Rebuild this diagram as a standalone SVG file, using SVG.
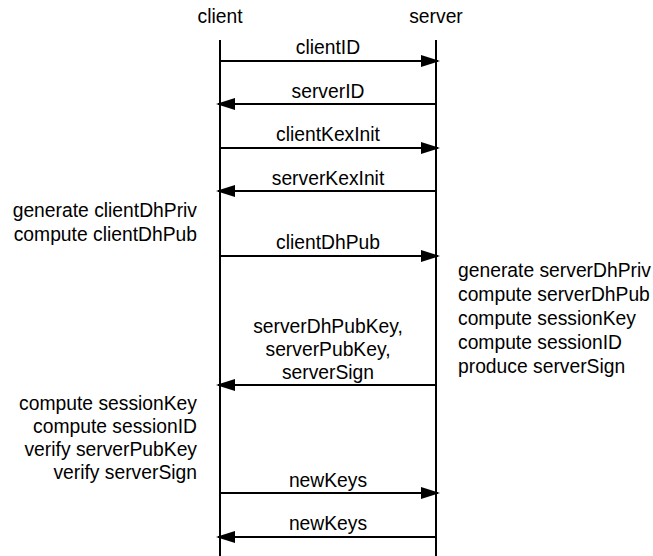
<svg xmlns="http://www.w3.org/2000/svg" width="653" height="556" viewBox="0 0 653 556">
  <style>
    text { font-family: "Liberation Sans", Arial, sans-serif; font-size: 19.3px; fill: #000; }
    .mid { text-anchor: middle; }
    .end { text-anchor: end; }
    .life { stroke: #000; stroke-width: 2; fill: none; }
    .msg { stroke: #000; stroke-width: 2; fill: none; marker-end: url(#head); }
  </style>
  <defs>
    <marker id="head" viewBox="0 0 19 12" refX="17" refY="6" markerWidth="19" markerHeight="12" markerUnits="userSpaceOnUse" orient="auto">
      <path d="M0,0 L19,6 L0,12 Z" fill="#000"/>
    </marker>
  </defs>

  <!-- lifelines -->
  <g id="client">
    <text class="mid" x="220" y="23">client</text>
    <line class="life" x1="220" y1="40" x2="220" y2="556"/>
  </g>
  <g id="server">
    <text class="mid" x="436" y="23">server</text>
    <line class="life" x1="436" y1="40" x2="436" y2="556"/>
  </g>

  <!-- messages -->
  <g id="connectors">
    <line class="msg" x1="220" y1="61" x2="438" y2="61"/>
    <text class="mid" x="328" y="54">clientID</text>

    <line class="msg" x1="436" y1="104" x2="218" y2="104"/>
    <text class="mid" x="328" y="98">serverID</text>

    <line class="msg" x1="220" y1="148" x2="438" y2="148"/>
    <text class="mid" x="328" y="141">clientKexInit</text>

    <line class="msg" x1="436" y1="191" x2="218" y2="191"/>
    <text class="mid" x="328" y="185">serverKexInit</text>

    <line class="msg" x1="220" y1="256" x2="438" y2="256"/>
    <text class="mid" x="328" y="249">clientDhPub</text>

    <line class="msg" x1="436" y1="385" x2="218" y2="385"/>
    <text class="mid" x="328" y="333">serverDhPubKey,</text>
    <text class="mid" x="328" y="356">serverPubKey,</text>
    <text class="mid" x="328" y="379">serverSign</text>

    <line class="msg" x1="220" y1="493" x2="438" y2="493"/>
    <text class="mid" x="328" y="487">newKeys</text>

    <line class="msg" x1="436" y1="537" x2="218" y2="537"/>
    <text class="mid" x="328" y="530">newKeys</text>
  </g>

  <!-- local computations -->
  <g id="client-dh">
    <text class="end" x="197" y="217">generate clientDhPriv</text>
    <text class="end" x="197" y="241">compute clientDhPub</text>
  </g>

  <g id="server-dh">
    <text x="458" y="277">generate serverDhPriv</text>
    <text x="458" y="301">compute serverDhPub</text>
    <text x="458" y="325">compute sessionKey</text>
    <text x="458" y="349">compute sessionID</text>
    <text x="458" y="373">produce serverSign</text>
  </g>

  <g id="client-verify">
    <text class="end" x="197" y="410">compute sessionKey</text>
    <text class="end" x="197" y="433">compute sessionID</text>
    <text class="end" x="197" y="456">verify serverPubKey</text>
    <text class="end" x="197" y="479">verify serverSign</text>
  </g>
</svg>
